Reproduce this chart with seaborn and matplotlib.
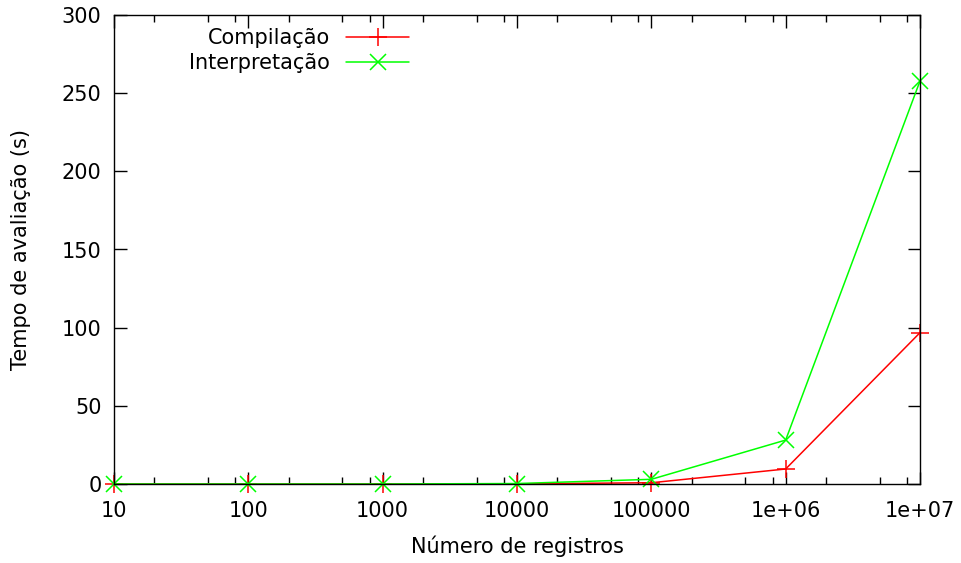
import numpy as np
import pandas as pd
import matplotlib
matplotlib.use("Agg")
import matplotlib.pyplot as plt
import seaborn as sns
from matplotlib.ticker import FixedLocator, FixedFormatter, LogLocator, NullFormatter

# dados
registros = [10, 100, 1000, 10000, 100000, 1000000, 10000000]
compilacao = [0.0, 0.0, 0.0, 0.1, 0.8, 9.6, 96.8]
interpretacao = [0.0, 0.0, 0.0, 0.3, 3.0, 28.1, 257.8]
xtick_labels = ["10", "100", "1000", "10000", "100000", "1e+06", "1e+07"]
yticks = [0, 50, 100, 150, 200, 250, 300]

sns.set_style("ticks")
plt.rcParams["font.family"] = ["DejaVu Sans"]
plt.rcParams["font.size"] = 15
plt.rcParams["text.color"] = "black"
plt.rcParams["axes.labelcolor"] = "black"

df = pd.DataFrame({"registros": registros,
                   "Compilação": compilacao,
                   "Interpretação": interpretacao})

fig = plt.figure(figsize=(9.62, 5.63), dpi=100)
ax = fig.add_axes([114 / 962, 1 - 484 / 563, (920 - 114) / 962, (484 - 15) / 563])

sns.lineplot(data=df, x="registros", y="Compilação", color="#ff0000",
             marker="+", markersize=13, markeredgewidth=1.1,
             markeredgecolor="#ff0000", linewidth=1.1,
             label="Compilação", clip_on=False, ax=ax)
sns.lineplot(data=df, x="registros", y="Interpretação", color="#00ff00",
             marker="x", markersize=12, markeredgewidth=1.1,
             markeredgecolor="#00ff00", linewidth=1.1,
             label="Interpretação", clip_on=False, ax=ax)

ax.set_xscale("log")
ax.set_xlim(10, 1e7)
ax.set_ylim(0, 300)
ax.xaxis.set_major_locator(FixedLocator(registros))
ax.xaxis.set_major_formatter(FixedFormatter(xtick_labels))
ax.xaxis.set_minor_locator(LogLocator(base=10, subs=[2, 5, 8]))
ax.xaxis.set_minor_formatter(NullFormatter())
ax.set_yticks(yticks)
ax.set_yticklabels([str(v) for v in yticks])

for s in ax.spines.values():
    s.set_visible(True)
    s.set_linewidth(1.0)
    s.set_color("black")

ax.tick_params(which="major", direction="in", length=9, width=1,
               top=True, right=True, labelsize=15, colors="black")
ax.tick_params(axis="x", which="major", pad=12)
ax.tick_params(axis="y", which="major", pad=9)
ax.tick_params(which="minor", direction="in", length=5, width=1,
               top=True, right=True, colors="black")

ax.set_xlabel("Número de registros", fontsize=15, labelpad=11)
ax.set_ylabel("Tempo de avaliação (s)", fontsize=15, labelpad=22)

leg = ax.legend(loc="upper right", bbox_to_anchor=(409 / 962, 1 - 28 / 563),
                bbox_transform=fig.transFigure, frameon=False,
                markerfirst=False, handlelength=3.0, handletextpad=0.8,
                labelspacing=0.25, borderpad=0, borderaxespad=0)

fig.savefig("out.png", dpi=100)
